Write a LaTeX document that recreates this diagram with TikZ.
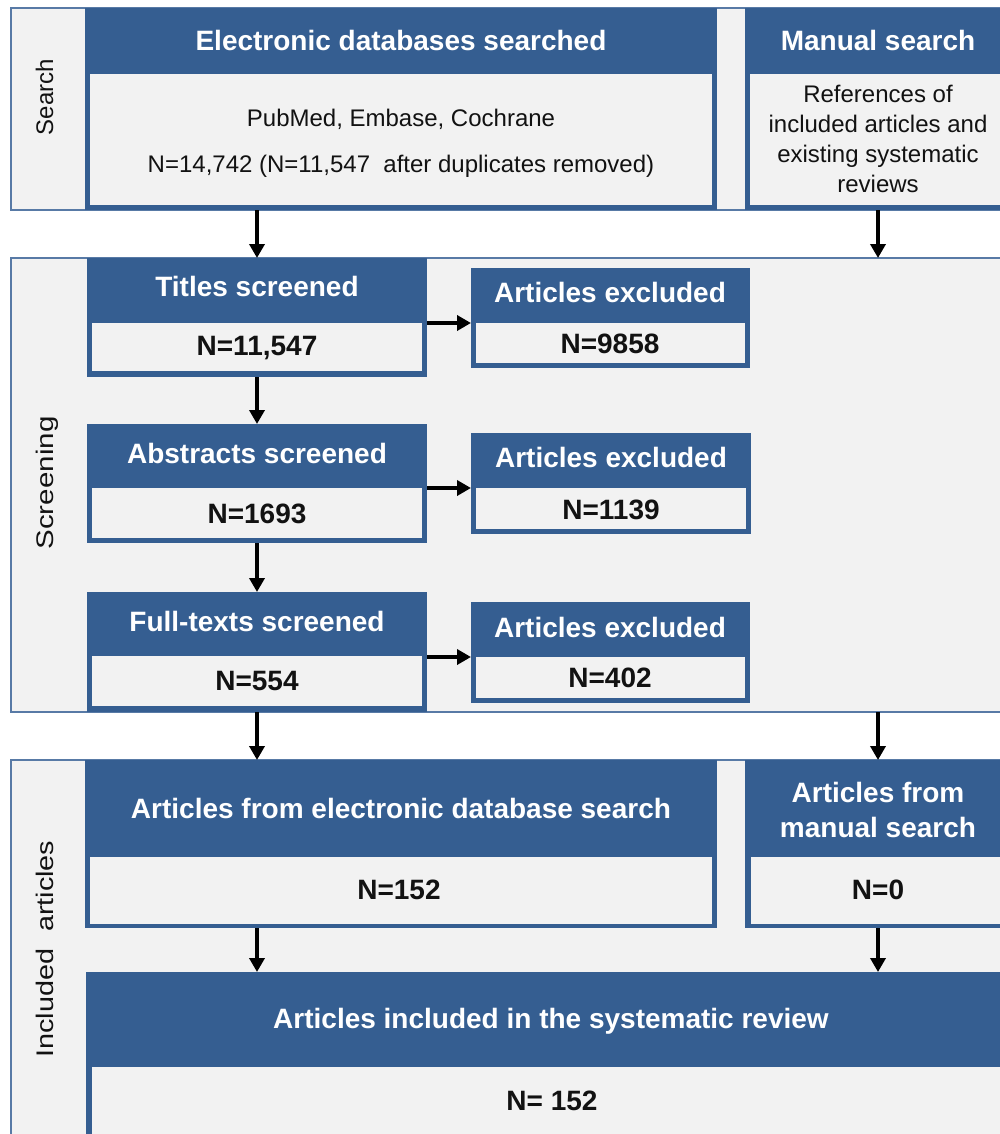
\documentclass[tikz,border=0pt]{standalone}
\usepackage{fontspec}
\setmainfont{Liberation Sans}
\usetikzlibrary{arrows.meta,fit}
\definecolor{hdrblue}{RGB}{53,94,145}
\definecolor{lightbg}{RGB}{242,242,242}
\definecolor{secline}{RGB}{88,122,166}
\definecolor{txt}{RGB}{18,18,18}
\newcommand\hdrfont{\fontsize{28}{35}\selectfont\bfseries}
\newcommand\numfont{\fontsize{28}{34}\selectfont\bfseries}
\newcommand\bodyfont{\fontsize{24}{30}\selectfont}
\newcommand\labfont{\fontsize{24}{30}\selectfont}
\begin{document}
\begin{tikzpicture}[x=1pt,y=-1pt,
  sect/.style={draw=secline, line width=1.5pt, fill=lightbg, inner sep=0pt, outer sep=0pt},
  bluebox/.style={fill=hdrblue, draw=none, inner sep=0pt, outer sep=0pt},
  cbox/.style={fill=lightbg, draw=none, inner sep=0pt, outer sep=0pt},
  hdr/.style={text=white, font=\hdrfont, inner sep=0pt, anchor=base},
  num/.style={text=txt, font=\numfont, inner sep=0pt, anchor=base},
  body/.style={text=txt, font=\bodyfont, inner sep=0pt, anchor=base},
  lab/.style={text=txt, font=\labfont, inner sep=0pt, rotate=90, anchor=base},
  arr/.style={draw=black, line width=4pt, -{Triangle[length=14pt,width=15pt]}}
]
\useasboundingbox (0,0) rectangle (1000,1134);
\clip (0,0) rectangle (1000,1134);
\fill[white] (0,0) rectangle (1000,1134);

% ---------- sections ----------
\node[sect, fit={(11,8)(1015,210)}] (S1) {};
\node[sect, fit={(11,258)(1015,712)}] (S2) {};
\node[sect, fit={(11,760)(1015,1160)}] (S3) {};

\node[lab] (L1) at (53,97) {Search};
\node[lab] (L2) at (53,483) {\scalebox{1.23}[1]{Screening}};
\node[lab] (L3) at (53,949) {\scalebox{1.2}[1]{Included\hspace{14pt}articles}};

% ---------- search ----------
\node[bluebox, fit={(85,8)(717,210)}] (E) {};
\node[cbox, fit={(90,74)(712,205)}] (Ec) {};
\node[hdr] (Eh) at (401,51) {Electronic databases searched};
\node[body] (Eb1) at (401,127) {PubMed, Embase, Cochrane};
\node[body] (Eb2) at (401,173) {N=14,742 (N=11,547\ \ after duplicates removed)};

\node[bluebox, fit={(745,8)(1011,210)}] (M) {};
\node[cbox, fit={(750,74)(1006,205)}] (Mc) {};
\node[hdr] (Mh) at (878,51) {Manual search};
\node[body] (Mb1) at (878,103) {References of};
\node[body] (Mb2) at (878,133) {included articles and};
\node[body] (Mb3) at (878,163) {existing systematic};
\node[body] (Mb4) at (878,193) {reviews};

% ---------- screening ----------
\node[bluebox, fit={(87,258)(427,377)}] (T) {};
\node[cbox, fit={(92,323)(422,371)}] (Tc) {};
\node[hdr] (Th) at (257,296) {Titles screened};
\node[num] (Tn) at (257,355) {N=11,547};

\node[bluebox, fit={(471,268)(750,368)}] (X1) {};
\node[cbox, fit={(476,323)(745,363)}] (X1c) {};
\node[hdr] (X1h) at (610,302) {Articles excluded};
\node[num] (X1n) at (610,353) {N=9858};

\node[bluebox, fit={(87,424)(427,543)}] (A) {};
\node[cbox, fit={(92,488)(422,538)}] (Ac) {};
\node[hdr] (Ah) at (257,463) {Abstracts screened};
\node[num] (An) at (257,523) {N=1693};

\node[bluebox, fit={(471,433)(751,534)}] (X2) {};
\node[cbox, fit={(476,488)(746,529)}] (X2c) {};
\node[hdr] (X2h) at (611,467) {Articles excluded};
\node[num] (X2n) at (611,519) {N=1139};

\node[bluebox, fit={(87,592)(427,712)}] (F) {};
\node[cbox, fit={(92,656)(422,706)}] (Fc) {};
\node[hdr] (Fh) at (257,631) {Full-texts screened};
\node[num] (Fn) at (257,690) {N=554};

\node[bluebox, fit={(471,602)(750,703)}] (X3) {};
\node[cbox, fit={(476,657)(745,698)}] (X3c) {};
\node[hdr] (X3h) at (610,637) {Articles excluded};
\node[num] (X3n) at (610,687) {N=402};

% ---------- included ----------
\node[bluebox, fit={(85,760)(717,928)}] (AE) {};
\node[cbox, fit={(90,857)(712,924)}] (AEc) {};
\node[hdr] (AEh) at (401,818) {Articles from electronic database search};
\node[num] (AEn) at (399,899) {N=152};

\node[bluebox, fit={(745,760)(1011,928)}] (MI) {};
\node[cbox, fit={(751,857)(1006,924)}] (MIc) {};
\node[hdr] (MIh1) at (878,802) {Articles from};
\node[hdr] (MIh2) at (878,837) {manual search};
\node[num] (MIn) at (878,899) {N=0};

\node[bluebox, fit={(86,972)(1011,1160)}] (FIN) {};
\node[cbox, fit={(92,1067)(1006,1155)}] (FINc) {};
\node[hdr] (FINh) at (551,1028) {Articles included in the systematic review};
\node[num] (FINn) at (552,1110) {N= 152};

% ---------- connectors ----------
\draw[arr] (E.south -| T.north) -- (T.north);
\draw[arr] (M.south) -- (M.south |- S2.north);
\draw[arr] (T.south) -- (A.north);
\draw[arr] (A.south) -- (F.north);
\draw[arr] (T.east |- X1c.north) -- (X1c.north -| X1.west);
\draw[arr] (A.east |- X2c.north) -- (X2c.north -| X2.west);
\draw[arr] (F.east |- X3c.north) -- (X3c.north -| X3.west);
\draw[arr] (F.south) -- (F.south |- AE.north);
\draw[arr] (MI.north |- S2.south) -- (MI.north);
\draw[arr] (AE.south -| F.south) -- (F.south |- FIN.north);
\draw[arr] (MI.south) -- (MI.south |- FIN.north);
\end{tikzpicture}
\end{document}
